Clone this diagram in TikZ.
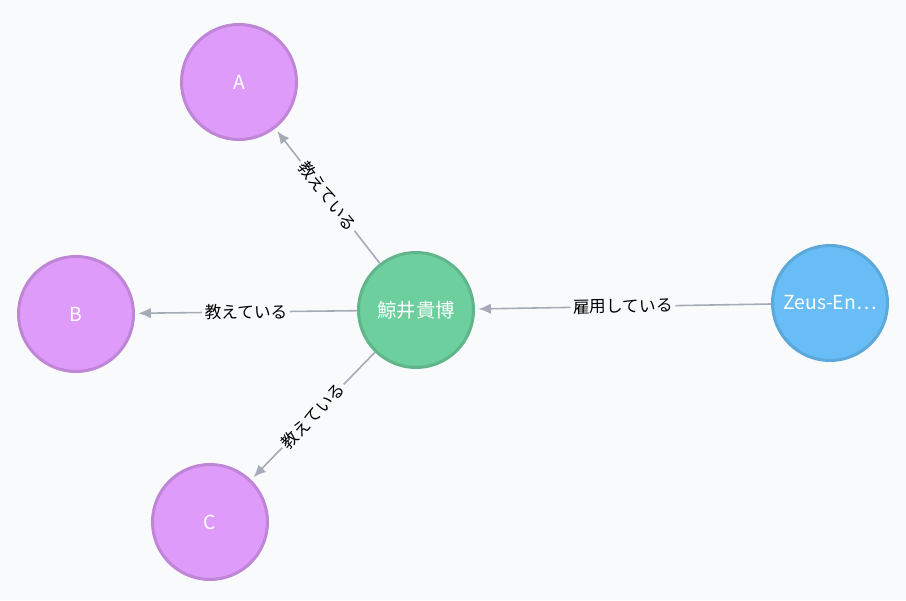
\documentclass[tikz,border=0pt]{standalone}
\usepackage{fontspec}
\setmainfont{Noto Sans CJK JP}
\usetikzlibrary{arrows.meta}
\definecolor{bgcol}{HTML}{F9FAFC}
\definecolor{edgecol}{HTML}{A5ABB6}
\definecolor{purfill}{HTML}{DE9BF9}
\definecolor{purline}{HTML}{BF85D6}
\definecolor{grnfill}{HTML}{6DCE9E}
\definecolor{grnline}{HTML}{60B58B}
\definecolor{blufill}{HTML}{68BDF6}
\definecolor{bluline}{HTML}{5CA8DB}
\tikzset{
  person/.style = {circle, draw=purline, fill=purfill, line width=1.7pt, minimum size=2.3cm, text=white, font=\fontsize{11}{13}\selectfont},
  teacher/.style = {person, draw=grnline, fill=grnfill},
  company/.style = {person, draw=bluline, fill=blufill},
  rel/.style = {draw=edgecol, line width=0.9pt, -{Latex[length=7pt,width=6pt]}, shorten >=2pt},
  rellabel/.style = {fill=bgcol, inner sep=1.5pt, sloped, font=\fontsize{9.5}{11}\selectfont}
}
\begin{document}
\begin{tikzpicture}
    \fill [bgcol] (0,0) rectangle (18.12,12);
    \useasboundingbox (0,0) rectangle (18.12,12);

    \node [person] (a) at (4.78,10.36) {A};
    \node [person] (b) at (1.52,5.72) {B};
    \node [person] (c) at (4.20,1.56) {C};
    \node [teacher] (kujirai) at (8.32,5.80) {鯨井貴博};
    \node [company] (zeus) at (16.60,5.94) {Zeus-En…};

    \draw [rel] (kujirai) -- node [rellabel] {教えている} (a);
    \draw [rel] (kujirai) -- node [rellabel] {教えている} (b);
    \draw [rel] (kujirai) -- node [rellabel] {教えている} (c);
    \draw [rel] (zeus) -- node [rellabel] {雇用している} (kujirai);
\end{tikzpicture}
\end{document}
